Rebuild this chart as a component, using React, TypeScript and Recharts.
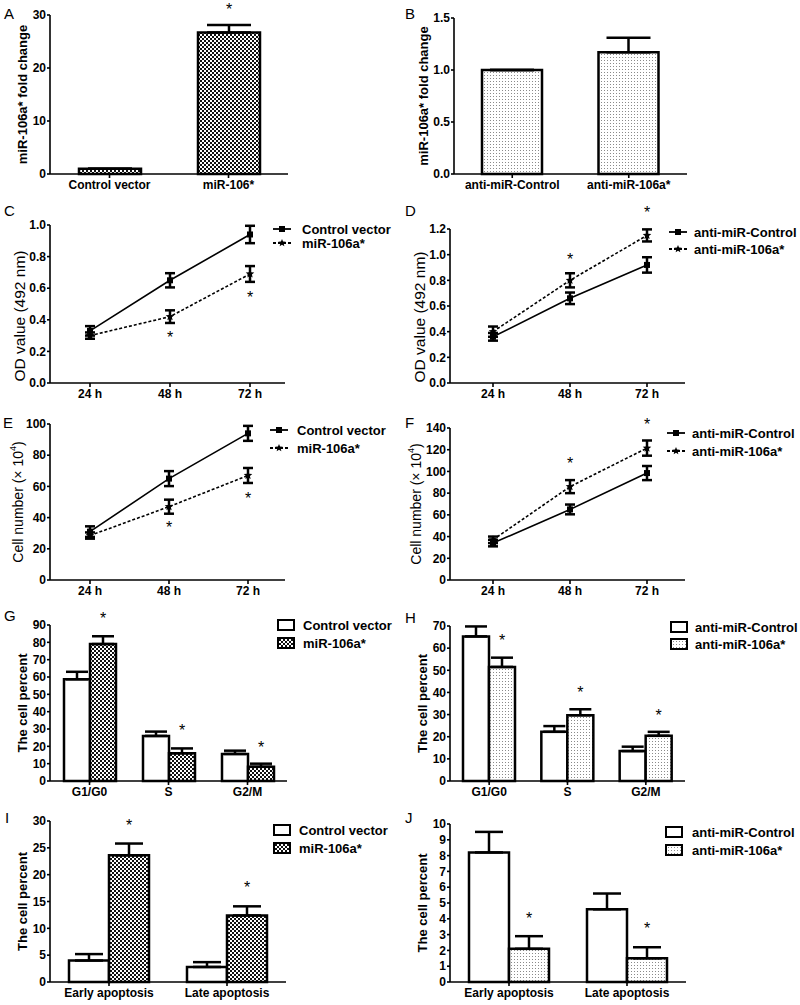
import React from 'react';
import { BarChart, Bar, LineChart, Line, XAxis, YAxis, ErrorBar, LabelList, Legend, ReferenceDot } from 'recharts';

const FONT = '"Liberation Sans", Arial, Helvetica, sans-serif';
const CHART_W = 400;
const CHART_H = 210;
const XAXIS_H = 20;

// ---- data ----
const groupsA = ['Control vector', 'miR-106*'];
const foldA = [1.0, 26.7];
const foldAErr = [0, 1.4];
const sigA = [null, 31.1];

const groupsB = ['anti-miR-Control', 'anti-miR-106a*'];
const foldB = [1.0, 1.17];
const foldBErr = [0, 0.14];

const hours = ['24 h', '48 h', '72 h'];

const odCtrlC = [0.33, 0.65, 0.94];
const odCtrlCErr = [0.03, 0.045, 0.055];
const odMiC = [0.3, 0.42, 0.69];
const odMiCErr = [0.02, 0.04, 0.05];
const sigC = [null, 0.29, 0.545];

const odCtrlD = [0.36, 0.66, 0.92];
const odCtrlDErr = [0.03, 0.045, 0.06];
const odAntiD = [0.4, 0.8, 1.15];
const odAntiDErr = [0.04, 0.055, 0.047];
const sigD = [null, 0.97, 1.33];

const numCtrlE = [31, 65, 94];
const numCtrlEErr = [3.4, 4.8, 4.8];
const numMiE = [28.5, 47, 67];
const numMiEErr = [2, 4.5, 4.8];
const sigE = [null, 34, 52.6];

const numCtrlF = [34, 65, 98.5];
const numCtrlFErr = [3, 4.5, 6.5];
const numAntiF = [37, 86, 121.5];
const numAntiFErr = [3, 6, 7];
const sigF = [null, 107.8, 143.7];

const phases = ['G1/G0', 'S', 'G2/M'];

const cycCtrlG = [58.7, 26, 15.6];
const cycCtrlGErr = [4.3, 2.5, 1.9];
const cycMiG = [79, 16, 8.2];
const cycMiGErr = [4.5, 2.8, 1.8];
const sigG = [94, 29.4, 19.6];

const cycCtrlH = [65.3, 22.2, 13.5];
const cycCtrlHErr = [4.5, 2.6, 2];
const cycAntiH = [51.5, 29.7, 20.4];
const cycAntiHErr = [4.2, 2.7, 1.8];
const sigH = [63.7, 40.2, 29.8];

const apopStages = ['Early apoptosis', 'Late apoptosis'];

const apCtrlI = [4.0, 2.8];
const apCtrlIErr = [1.2, 0.9];
const apMiI = [23.6, 12.4];
const apMiIErr = [2.2, 1.7];
const sigI = [29.3, 17.7];

const apCtrlJ = [8.2, 4.6];
const apCtrlJErr = [1.3, 1.0];
const apAntiJ = [2.1, 1.5];
const apAntiJErr = [0.8, 0.7];
const sigJ = [4.05, 3.4];

// ---- styles ----
const tickStyle = { fontSize: 12, fontWeight: 700, fill: '#000', fontFamily: FONT };
const axisStyle = { stroke: '#000', strokeWidth: 1.6 };
const CHECKER = 'url(#checker)';
const DOTS = 'url(#dots)';

type Geo = { axisX: number; x1: number; y0: number; y1: number };

const frameMargin = (g: Geo) => ({ top: g.y0, right: CHART_W - g.x1, bottom: CHART_H - g.y1 - XAXIS_H, left: 0 });

const yTitle = (content: React.ReactNode, cx: number, bold: boolean, size: number, dy = 0) => (p: any) => {
  const vb = p.viewBox;
  const cy = vb.y + vb.height / 2 + dy;
  return (
    <text x={cx} y={cy} transform={`rotate(-90 ${cx} ${cy})`} textAnchor="middle" dominantBaseline="central"
      fontFamily={FONT} fontSize={size} fontWeight={bold ? 700 : 400} fill="#000">
      {content}
    </text>
  );
};

const starPath = (cx: number, cy: number, r: number) => {
  const pts: string[] = [];
  for (let i = 0; i < 10; i++) {
    const rr = i % 2 === 0 ? r : r * 0.45;
    const a = -Math.PI / 2 + (i * Math.PI) / 5;
    pts.push(`${cx + rr * Math.cos(a)},${cy + rr * Math.sin(a)}`);
  }
  return 'M' + pts.join('L') + 'Z';
};

const squareDot = (p: any) =>
  p.cx == null || p.cy == null ? <g key={`s${p.index}`} /> :
    <rect key={`s${p.index}`} x={p.cx - 3} y={p.cy - 3} width={6} height={6} fill="#000" />;

const starDot = (p: any) =>
  p.cx == null || p.cy == null ? <g key={`t${p.index}`} /> :
    <path key={`t${p.index}`} d={starPath(p.cx, p.cy, 4.5)} fill="#000" />;

const asterisk = (p: any) => (
  <text x={p.cx} y={p.cy + 6} textAnchor="middle" fontFamily={FONT} fontSize={16} fill="#000">*</text>
);

const starLabel = (sig: (number | null)[]) => (p: any) => {
  const vb = p.viewBox ?? p;
  const s = sig[p.index];
  if (s == null || !vb || !p.value) return null;
  const cy = vb.y + vb.height - (s * vb.height) / Number(p.value);
  return (
    <text x={vb.x + vb.width / 2} y={cy + 6} textAnchor="middle" fontFamily={FONT} fontSize={16} fill="#000">*</text>
  );
};

type LegendItem = { name: string; icon: React.ReactNode };

const legendBox = (items: LegendItem[], rowH: number, gap: number) => () => (
  <div style={{ fontFamily: FONT, fontWeight: 700, fontSize: 13, color: '#000' }}>
    {items.map((it, i) => (
      <div key={i} style={{ display: 'flex', alignItems: 'center', height: rowH, whiteSpace: 'nowrap' }}>
        <span style={{ display: 'inline-flex', marginRight: gap }}>{it.icon}</span>
        <span>{it.name}</span>
      </div>
    ))}
  </div>
);

const lineIcon = (dashed: boolean, marker: 'square' | 'star') => (
  <svg width={18} height={10}>
    <line x1={0} y1={5} x2={18} y2={5} stroke="#000" strokeWidth={1.8} strokeDasharray={dashed ? '3 2' : undefined} />
    {marker === 'square' ? <rect x={6} y={2} width={6} height={6} fill="#000" /> : <path d={starPath(9, 5, 4)} fill="#000" />}
  </svg>
);

const boxIcon = (fill: string) => (
  <svg width={18} height={12}>
    <rect x={1} y={1} width={16} height={10} fill={fill} stroke="#000" strokeWidth={2} />
  </svg>
);

type Series = { name: string; values: number[]; errs: number[]; fill?: string; dashed?: boolean; marker?: 'square' | 'star'; sig?: (number | null)[] };
type LegendCfg = { x: number; y: number; rowH: number; gap: number };

function BarPanel(props: {
  left: number; top: number; geo: Geo; cats: string[]; series: Series[];
  domain: [number, number]; ticks: number[]; fmt?: (v: number) => string;
  title: React.ReactNode; titleX: number; titleSize: number; titleBold: boolean;
  barSize: number; cap: number; legend?: LegendCfg;
}) {
  const { left, top, geo, cats, series, domain, ticks, fmt, title, titleX, titleSize, titleBold, barSize, cap, legend } = props;
  const data = cats.map((name, i) => {
    const row: any = { name };
    series.forEach((s, k) => {
      row['v' + k] = s.values[i];
      row['e' + k] = [0, s.errs[i]];
    });
    return row;
  });
  return (
    <div style={{ position: 'absolute', left, top, width: CHART_W, height: CHART_H }}>
      <BarChart width={CHART_W} height={CHART_H} data={data} margin={frameMargin(geo)} barGap={0} barSize={barSize}>
        <XAxis dataKey="name" tick={tickStyle} axisLine={axisStyle} tickLine={axisStyle} tickSize={4} height={XAXIS_H} interval={0} />
        <YAxis width={geo.axisX} domain={domain} ticks={ticks} interval={0} tickFormatter={fmt} tick={tickStyle}
          axisLine={axisStyle} tickLine={axisStyle} tickSize={3} tickMargin={1} label={yTitle(title, titleX, titleBold, titleSize)} />
        {series.map((s, k) => (
          <Bar key={k} dataKey={'v' + k} name={s.name} fill={s.fill} stroke="#000" strokeWidth={2.5} isAnimationActive={false}>
            <ErrorBar dataKey={'e' + k} width={cap} stroke="#000" strokeWidth={2.5} direction="y" />
            {s.sig ? <LabelList content={starLabel(s.sig)} /> : null}
          </Bar>
        ))}
        {legend ? (
          <Legend layout="vertical" align="center" verticalAlign="middle"
            wrapperStyle={{ left: legend.x, top: legend.y - legend.rowH / 2 }}
            content={legendBox(series.map((s) => ({ name: s.name, icon: boxIcon(s.fill || '#fff') })), legend.rowH, legend.gap)} />
        ) : null}
      </BarChart>
    </div>
  );
}

function LinePanel(props: {
  left: number; top: number; geo: Geo; cats: string[]; series: Series[]; sig: (number | null)[];
  domain: [number, number]; ticks: number[]; fmt?: (v: number) => string;
  title: React.ReactNode; titleX: number; titleSize: number; titleDy: number;
  pad: { left: number; right: number }; legend: LegendCfg;
}) {
  const { left, top, geo, cats, series, sig, domain, ticks, fmt, title, titleX, titleSize, titleDy, pad, legend } = props;
  const data = cats.map((name, i) => {
    const row: any = { name };
    series.forEach((s, k) => {
      row['v' + k] = s.values[i];
      row['e' + k] = s.errs[i];
    });
    return row;
  });
  return (
    <div style={{ position: 'absolute', left, top, width: CHART_W, height: CHART_H }}>
      <LineChart width={CHART_W} height={CHART_H} data={data} margin={frameMargin(geo)}>
        <XAxis dataKey="name" padding={pad} tick={tickStyle} axisLine={axisStyle} tickLine={axisStyle} tickSize={4} height={XAXIS_H} interval={0} />
        <YAxis width={geo.axisX} domain={domain} ticks={ticks} interval={0} tickFormatter={fmt} tick={tickStyle}
          axisLine={axisStyle} tickLine={axisStyle} tickSize={3} tickMargin={1}
          label={yTitle(title, titleX, false, titleSize, titleDy)} />
        {series.map((s, k) => (
          <Line key={k} dataKey={'v' + k} name={s.name} stroke="#000" strokeWidth={1.6}
            strokeDasharray={s.dashed ? '3 2' : undefined}
            dot={s.marker === 'square' ? squareDot : starDot} activeDot={false} isAnimationActive={false}>
            <ErrorBar dataKey={'e' + k} width={5} stroke="#000" strokeWidth={2.5} direction="y" />
          </Line>
        ))}
        {sig.map((s, i) => (s == null ? null : (
          <ReferenceDot key={i} x={cats[i]} y={s} r={0} ifOverflow="visible" shape={asterisk} />
        )))}
        <Legend layout="vertical" align="center" verticalAlign="middle"
          wrapperStyle={{ left: legend.x, top: legend.y - legend.rowH / 2 }}
          content={legendBox(series.map((s) => ({ name: s.name, icon: lineIcon(!!s.dashed, s.marker || 'square') })), legend.rowH, legend.gap)} />
      </LineChart>
    </div>
  );
}

const Letter = ({ ch, x, y }: { ch: string; x: number; y: number }) => (
  <div style={{ position: 'absolute', left: x, top: y, fontFamily: FONT, fontSize: 15, lineHeight: '15px', color: '#000' }}>{ch}</div>
);

const oneDec = (v: number) => v.toFixed(1);

const cellTitle = (
  <>
    <tspan>Cell number (×  10</tspan>
    <tspan dy={-5} fontSize={9}>4</tspan>
    <tspan dy={5}>)</tspan>
  </>
);

export default function App() {
  return (
    <div style={{ position: 'absolute', left: 0, top: 0, width: 800, height: 1005, background: '#fff', overflow: 'hidden' }}>
      <svg width={0} height={0} style={{ position: 'absolute' }}>
        <defs>
          <pattern id="checker" width={4} height={4} patternUnits="userSpaceOnUse">
            <rect width={4} height={4} fill="#fff" />
            <rect width={2} height={2} fill="#111" />
            <rect x={2} y={2} width={2} height={2} fill="#111" />
          </pattern>
          <pattern id="dots" width={3} height={3} patternUnits="userSpaceOnUse">
            <rect width={3} height={3} fill="#fff" />
            <rect width={1} height={1} fill="#8a8a8a" />
          </pattern>
        </defs>
      </svg>

      <BarPanel left={0} top={0} geo={{ axisX: 50, x1: 288, y0: 15, y1: 174 }} cats={groupsA}
        series={[{ name: 'fold', values: foldA, errs: foldAErr, fill: CHECKER, sig: sigA }]}
        domain={[0, 30]} ticks={[0, 10, 20, 30]} title="miR-106a* fold change" titleX={22} titleSize={13} titleBold
        barSize={62} cap={22} />
      <BarPanel left={400} top={0} geo={{ axisX: 54, x1: 287, y0: 18, y1: 174 }} cats={groupsB}
        series={[{ name: 'fold', values: foldB, errs: foldBErr, fill: DOTS }]}
        domain={[0, 1.5]} ticks={[0, 0.5, 1, 1.5]} fmt={oneDec} title="miR-106a* fold change" titleX={23} titleSize={13} titleBold
        barSize={60} cap={22} />

      <LinePanel left={0} top={200} geo={{ axisX: 50, x1: 285, y0: 25, y1: 183 }} cats={hours}
        series={[
          { name: 'Control vector', values: odCtrlC, errs: odCtrlCErr, marker: 'square' },
          { name: 'miR-106a*', values: odMiC, errs: odMiCErr, marker: 'star', dashed: true },
        ]}
        sig={sigC} domain={[0, 1]} ticks={[0, 0.2, 0.4, 0.6, 0.8, 1]} fmt={oneDec}
        title="OD value (492 nm)" titleX={19} titleSize={15.5} titleDy={12} pad={{ left: 40, right: 35 }}
        legend={{ x: 273, y: 29, rowH: 14, gap: 11 }} />
      <LinePanel left={400} top={200} geo={{ axisX: 50, x1: 285, y0: 29, y1: 183 }} cats={hours}
        series={[
          { name: 'anti-miR-Control', values: odCtrlD, errs: odCtrlDErr, marker: 'square' },
          { name: 'anti-miR-106a*', values: odAntiD, errs: odAntiDErr, marker: 'star', dashed: true },
        ]}
        sig={sigD} domain={[0, 1.2]} ticks={[0, 0.2, 0.4, 0.6, 0.8, 1, 1.2]} fmt={oneDec}
        title="OD value (492 nm)" titleX={19} titleSize={15.5} titleDy={11} pad={{ left: 43, right: 38 }}
        legend={{ x: 269, y: 32, rowH: 17, gap: 7 }} />

      <LinePanel left={0} top={400} geo={{ axisX: 50, x1: 285, y0: 24, y1: 180 }} cats={hours}
        series={[
          { name: 'Control vector', values: numCtrlE, errs: numCtrlEErr, marker: 'square' },
          { name: 'miR-106a*', values: numMiE, errs: numMiEErr, marker: 'star', dashed: true },
        ]}
        sig={sigE} domain={[0, 100]} ticks={[0, 20, 40, 60, 80, 100]}
        title={cellTitle} titleX={18} titleSize={14} titleDy={0} pad={{ left: 40, right: 37 }}
        legend={{ x: 270, y: 30, rowH: 18, gap: 9 }} />
      <LinePanel left={400} top={400} geo={{ axisX: 50, x1: 285, y0: 28, y1: 180 }} cats={hours}
        series={[
          { name: 'anti-miR-Control', values: numCtrlF, errs: numCtrlFErr, marker: 'square' },
          { name: 'anti-miR-106a*', values: numAntiF, errs: numAntiFErr, marker: 'star', dashed: true },
        ]}
        sig={sigF} domain={[0, 140]} ticks={[0, 20, 40, 60, 80, 100, 120, 140]}
        title={cellTitle} titleX={16} titleSize={14} titleDy={0} pad={{ left: 43, right: 38 }}
        legend={{ x: 267, y: 33, rowH: 18, gap: 7 }} />

      <BarPanel left={0} top={600} geo={{ axisX: 50, x1: 287, y0: 25, y1: 181 }} cats={phases}
        series={[
          { name: 'Control vector', values: cycCtrlG, errs: cycCtrlGErr, fill: '#fff' },
          { name: 'miR-106a*', values: cycMiG, errs: cycMiGErr, fill: CHECKER, sig: sigG },
        ]}
        domain={[0, 90]} ticks={[0, 10, 20, 30, 40, 50, 60, 70, 80, 90]} title="The cell percent" titleX={22} titleSize={13} titleBold
        barSize={26} cap={11} legend={{ x: 277, y: 25, rowH: 18, gap: 8 }} />
      <BarPanel left={400} top={600} geo={{ axisX: 50, x1: 285, y0: 26, y1: 181 }} cats={phases}
        series={[
          { name: 'anti-miR-Control', values: cycCtrlH, errs: cycCtrlHErr, fill: '#fff' },
          { name: 'anti-miR-106a*', values: cycAntiH, errs: cycAntiHErr, fill: DOTS, sig: sigH },
        ]}
        domain={[0, 70]} ticks={[0, 10, 20, 30, 40, 50, 60, 70]} title="The cell percent" titleX={22} titleSize={13} titleBold
        barSize={26} cap={11} legend={{ x: 270, y: 27, rowH: 17, gap: 7 }} />

      <BarPanel left={0} top={800} geo={{ axisX: 50, x1: 286, y0: 21, y1: 182 }} cats={apopStages}
        series={[
          { name: 'Control vector', values: apCtrlI, errs: apCtrlIErr, fill: '#fff' },
          { name: 'miR-106a*', values: apMiI, errs: apMiIErr, fill: CHECKER, sig: sigI },
        ]}
        domain={[0, 30]} ticks={[0, 5, 10, 15, 20, 25, 30]} title="The cell percent" titleX={22} titleSize={13} titleBold
        barSize={40} cap={14} legend={{ x: 273, y: 30, rowH: 18, gap: 8 }} />
      <BarPanel left={400} top={800} geo={{ axisX: 50, x1: 286, y0: 24, y1: 182 }} cats={apopStages}
        series={[
          { name: 'anti-miR-Control', values: apCtrlJ, errs: apCtrlJErr, fill: '#fff' },
          { name: 'anti-miR-106a*', values: apAntiJ, errs: apAntiJErr, fill: DOTS, sig: sigJ },
        ]}
        domain={[0, 10]} ticks={[0, 1, 2, 3, 4, 5, 6, 7, 8, 9, 10]} title="The cell percent" titleX={22} titleSize={13} titleBold
        barSize={40} cap={14} legend={{ x: 265, y: 32, rowH: 18, gap: 9 }} />

      <Letter ch="A" x={4} y={6} />
      <Letter ch="B" x={405} y={6} />
      <Letter ch="C" x={4} y={203} />
      <Letter ch="D" x={405} y={203} />
      <Letter ch="E" x={3} y={415} />
      <Letter ch="F" x={405} y={415} />
      <Letter ch="G" x={4} y={608} />
      <Letter ch="H" x={405} y={610} />
      <Letter ch="I" x={5} y={810} />
      <Letter ch="J" x={405} y={810} />
    </div>
  );
}
